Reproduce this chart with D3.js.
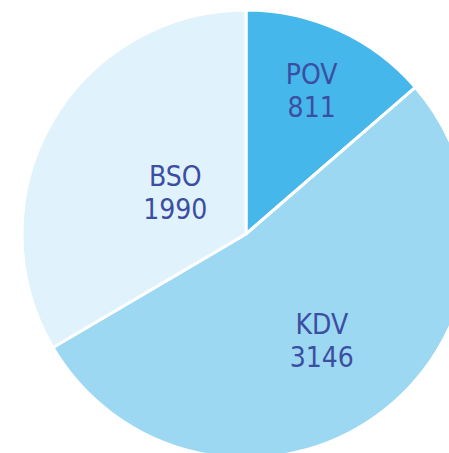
<!DOCTYPE html>
<html>
<head>
<meta charset="utf-8">
<script src="https://cdn.jsdelivr.net/npm/d3@7"></script>
<style>
  body { margin: 0; background: #fff; }
  svg { display: block; }
  .label { font-family: "DejaVu Sans Condensed", "DejaVu Sans", sans-serif; font-stretch: condensed; font-size: 28px; fill: #3c4ea1; }
</style>
</head>
<body>
<svg id="chart" width="449" height="453"></svg>
<script>
// data
var categories = ["POV", "KDV", "BSO"];
var values = [811, 3146, 1990];
var colors = ["#46b7ea", "#9cd8f2", "#e0f2fb"];

// label distance from centre, per slice (layout only)
var labelRadius = { POV: 158, KDV: 130, BSO: 85 };

var width = 449, height = 453;
var cx = 246, cy = 234, radius = 224;

var svg = d3.select("#chart");
var g = svg.append("g").attr("transform", "translate(" + cx + "," + cy + ")");

var pieData = categories.map(function (c, i) { return { name: c, value: values[i], color: colors[i] }; });

var pie = d3.pie()
    .sort(null)
    .value(function (d) { return d.value; });

var arc = d3.arc()
    .innerRadius(0)
    .outerRadius(radius);

var arcs = pie(pieData);

g.selectAll("path.slice")
    .data(arcs)
  .enter().append("path")
    .attr("class", "slice")
    .attr("d", arc)
    .attr("fill", function (d) { return d.data.color; })
    .attr("stroke", "#fff")
    .attr("stroke-width", 3)
    .attr("stroke-linejoin", "round");

var labels = g.selectAll("text.label")
    .data(arcs)
  .enter().append("text")
    .attr("class", "label")
    .attr("text-anchor", "middle")
    .attr("transform", function (d) {
        var r = labelRadius[d.data.name];
        var c = d3.arc().innerRadius(r).outerRadius(r).centroid(d);
        // BSO label sits a little right of its centroid line
        if (d.data.name === "BSO") c[0] += 3;
        return "translate(" + c[0] + "," + c[1] + ")";
    });

labels.append("tspan")
    .attr("x", 0)
    .attr("y", -6)
    .text(function (d) { return d.data.name; });

labels.append("tspan")
    .attr("x", 0)
    .attr("y", 27)
    .text(function (d) { return d.data.value; });
</script>
</body>
</html>
